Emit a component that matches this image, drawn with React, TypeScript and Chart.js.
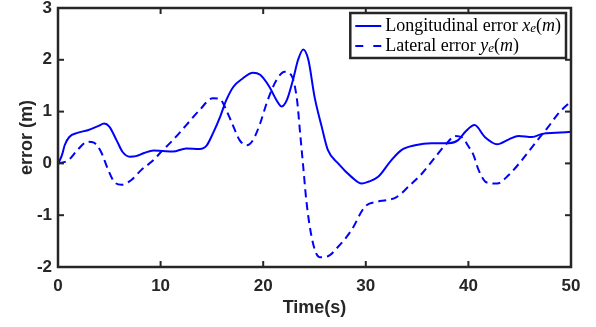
import { useEffect, useRef } from "react";
import { Chart, registerables } from "chart.js";

Chart.register(...registerables);

// ---- Data ----
const longTime = [0, 0.15, 0.4, 0.65, 1.1, 1.9, 2.9, 3.9, 4.5, 5.0, 5.7, 6.3, 7.0, 7.6, 8.4, 9.3, 10.2, 11.2, 12.5, 13.8, 14.5, 15.1, 15.8, 16.4, 17.1, 18.0, 19.0, 19.7, 20.6, 21.3, 21.8, 22.3, 22.9, 23.4, 23.9, 24.4, 25.0, 25.7, 26.3, 27.3, 28.6, 29.6, 30.3, 31.2, 32.4, 33.5, 34.8, 36.4, 38.1, 39.0, 39.7, 40.6, 41.6, 42.8, 43.9, 44.9, 46.2, 47.2, 48.5, 50];
const longErr = [0, 0.05, 0.17, 0.35, 0.51, 0.59, 0.64, 0.72, 0.77, 0.71, 0.45, 0.22, 0.13, 0.14, 0.2, 0.25, 0.24, 0.23, 0.29, 0.28, 0.35, 0.58, 0.9, 1.22, 1.48, 1.64, 1.75, 1.71, 1.48, 1.22, 1.1, 1.22, 1.61, 2.0, 2.2, 2.0, 1.29, 0.71, 0.26, 0, -0.26, -0.39, -0.35, -0.26, 0.04, 0.26, 0.35, 0.39, 0.39, 0.45, 0.61, 0.74, 0.51, 0.37, 0.46, 0.53, 0.51, 0.57, 0.59, 0.61];

const latTime = [0, 1.0, 1.9, 2.9, 3.5, 4.2, 4.9, 5.5, 6.2, 7.15, 8.1, 9.4, 9.9, 11.2, 12.5, 13.8, 15.1, 15.8, 16.4, 17.1, 17.7, 18.4, 19.0, 19.7, 20.4, 21.3, 22.1, 22.8, 23.3, 23.6, 23.9, 24.2, 24.6, 25.05, 25.5, 26.2, 27.3, 28.6, 29.9, 31.1, 32.0, 33.0, 34.2, 35.5, 36.8, 37.9, 38.7, 39.4, 40.0, 40.5, 41.0, 41.8, 42.8, 43.9, 45.2, 46.5, 47.8, 48.8, 50];
const latErr = [0, 0.06, 0.26, 0.42, 0.4, 0.22, -0.13, -0.36, -0.41, -0.32, -0.13, 0.08, 0.19, 0.45, 0.74, 1.03, 1.26, 1.24, 1.03, 0.71, 0.45, 0.35, 0.45, 0.77, 1.2, 1.61, 1.77, 1.68, 1.22, 0.58, -0.06, -0.71, -1.29, -1.68, -1.81, -1.8, -1.61, -1.29, -0.84, -0.74, -0.71, -0.65, -0.44, -0.19, 0.13, 0.39, 0.53, 0.5, 0.33, 0.16, -0.13, -0.37, -0.39, -0.23, 0.06, 0.39, 0.71, 0.97, 1.2];

const xMin = 0;
const xMax = 50;
const xStep = 10;
const yMin = -2;
const yMax = 3;
const yStep = 1;

const xTitle = "Time(s)";
const yTitle = "error (m)";

const legendNames = ["Longitudinal error ", "Lateral error "];
const legendSymbols = ["x", "y"];
const legendSub = "e";
const legendUnit = "m";

const LINE_COLOR = "#0000ff";
const AXIS_COLOR = "#262626";
const DASH = [8, 5];

// ---- Plugins ----
const framePlugin = {
  id: "matlabFrame",
  afterDatasetsDraw(chart: any) {
    const { ctx, chartArea: a, scales } = chart;
    ctx.save();
    ctx.strokeStyle = AXIS_COLOR;
    ctx.lineWidth = 2;
    const tl = 6;
    const seg = (x1: number, y1: number, x2: number, y2: number) => {
      ctx.beginPath();
      ctx.moveTo(x1, y1);
      ctx.lineTo(x2, y2);
      ctx.stroke();
    };
    scales.x.ticks.forEach((t: any) => {
      const px = scales.x.getPixelForValue(t.value);
      seg(px, a.bottom, px, a.bottom - tl);
      seg(px, a.top, px, a.top + tl);
    });
    scales.y.ticks.forEach((t: any) => {
      const py = scales.y.getPixelForValue(t.value);
      seg(a.left, py, a.left + tl, py);
      seg(a.right, py, a.right - tl, py);
    });
    ctx.lineWidth = 2.5;
    ctx.strokeRect(a.left, a.top, a.right - a.left, a.bottom - a.top);
    ctx.restore();
  },
};

const legendPlugin = {
  id: "latexLegend",
  afterDraw(chart: any) {
    const { ctx, chartArea: a } = chart;
    const size = 18;
    const fam = '"Liberation Serif", "Times New Roman", serif';
    const reg = `${size}px ${fam}`;
    const ital = `italic ${size}px ${fam}`;
    const sub = `italic ${Math.round(size * 0.7)}px ${fam}`;
    const rows = legendNames.map((n, i) => [
      { text: n, font: reg, dy: 0 },
      { text: legendSymbols[i], font: ital, dy: 0 },
      { text: legendSub, font: sub, dy: 3 },
      { text: "(", font: reg, dy: 0 },
      { text: legendUnit, font: ital, dy: 0 },
      { text: ")", font: reg, dy: 0 },
    ]);
    ctx.save();
    const widths = rows.map((segs) =>
      segs.reduce((w, s) => {
        ctx.font = s.font;
        return w + ctx.measureText(s.text).width;
      }, 0)
    );
    const textW = Math.max(...widths);
    const padL = 5;
    const sampleLen = 26;
    const gap = 4;
    const padR = 5;
    const boxW = padL + sampleLen + gap + textW + padR;
    const rowH = 20;
    const boxH = 45;
    const boxR = a.right - 5;
    const boxL = boxR - boxW;
    const boxT = a.top + 5;
    ctx.fillStyle = "#ffffff";
    ctx.fillRect(boxL, boxT, boxW, boxH);
    ctx.strokeStyle = AXIS_COLOR;
    ctx.lineWidth = 2.5;
    ctx.strokeRect(boxL, boxT, boxW, boxH);
    rows.forEach((segs, i) => {
      const cy = boxT + 13 + rowH * i;
      ctx.strokeStyle = LINE_COLOR;
      ctx.lineWidth = 2;
      ctx.setLineDash(i === 0 ? [] : [8, 10]);
      ctx.beginPath();
      ctx.moveTo(boxL + padL, cy);
      ctx.lineTo(boxL + padL + sampleLen, cy);
      ctx.stroke();
      ctx.setLineDash([]);
      let x = boxL + padL + sampleLen + gap;
      ctx.fillStyle = "#000000";
      ctx.textBaseline = "middle";
      segs.forEach((s) => {
        ctx.font = s.font;
        ctx.fillText(s.text, x, cy + s.dy);
        x += ctx.measureText(s.text).width;
      });
    });
    ctx.restore();
  },
};

export default function App() {
  const ref = useRef<HTMLCanvasElement | null>(null);

  useEffect(() => {
    const canvas = ref.current;
    if (!canvas) return;
    const tickFont = { family: '"Liberation Sans", Arial, sans-serif', size: 17, weight: "bold" as const };
    const titleFont = { family: '"Liberation Sans", Arial, sans-serif', size: 18, weight: "bold" as const };
    const chart = new Chart(canvas, {
      type: "line",
      data: {
        datasets: [
          {
            label: "Longitudinal error",
            data: longTime.map((t, i) => ({ x: t, y: longErr[i] })),
            borderColor: LINE_COLOR,
            borderWidth: 2,
            pointRadius: 0,
            fill: false,
            cubicInterpolationMode: "monotone",
          },
          {
            label: "Lateral error",
            data: latTime.map((t, i) => ({ x: t, y: latErr[i] })),
            borderColor: LINE_COLOR,
            borderWidth: 2,
            borderDash: DASH,
            pointRadius: 0,
            fill: false,
            cubicInterpolationMode: "monotone",
          },
        ],
      },
      options: {
        responsive: false,
        animation: false,
        layout: { padding: { left: 0, top: 8, right: 25, bottom: 0 } },
        plugins: {
          legend: { display: false },
          tooltip: { enabled: false },
        },
        scales: {
          x: {
            type: "linear",
            min: xMin,
            max: xMax,
            afterFit: (s: any) => {
              s.height = 60;
              s.paddingLeft = 0;
              s.paddingRight = 0;
            },
            ticks: { stepSize: xStep, color: AXIS_COLOR, font: tickFont, padding: 9, maxRotation: 0 },
            grid: { display: false, drawTicks: false },
            border: { display: false },
            title: { display: true, text: xTitle, color: AXIS_COLOR, font: titleFont, padding: { top: 0, bottom: 8 } },
          },
          y: {
            type: "linear",
            min: yMin,
            max: yMax,
            afterFit: (s: any) => {
              s.width = 58;
              s.paddingTop = 0;
              s.paddingBottom = 0;
            },
            ticks: { stepSize: yStep, color: AXIS_COLOR, font: tickFont, padding: 6 },
            grid: { display: false, drawTicks: false },
            border: { display: false },
            title: { display: true, text: yTitle, color: AXIS_COLOR, font: titleFont, padding: { top: 16, bottom: 0 } },
          },
        },
      },
      plugins: [framePlugin, legendPlugin],
    });
    return () => chart.destroy();
  }, []);

  return (
    <div style={{ position: "fixed", left: 0, top: 0, width: 596, height: 327, background: "#ffffff" }}>
      <canvas ref={ref} width={596} height={327} style={{ display: "block" }} />
    </div>
  );
}
